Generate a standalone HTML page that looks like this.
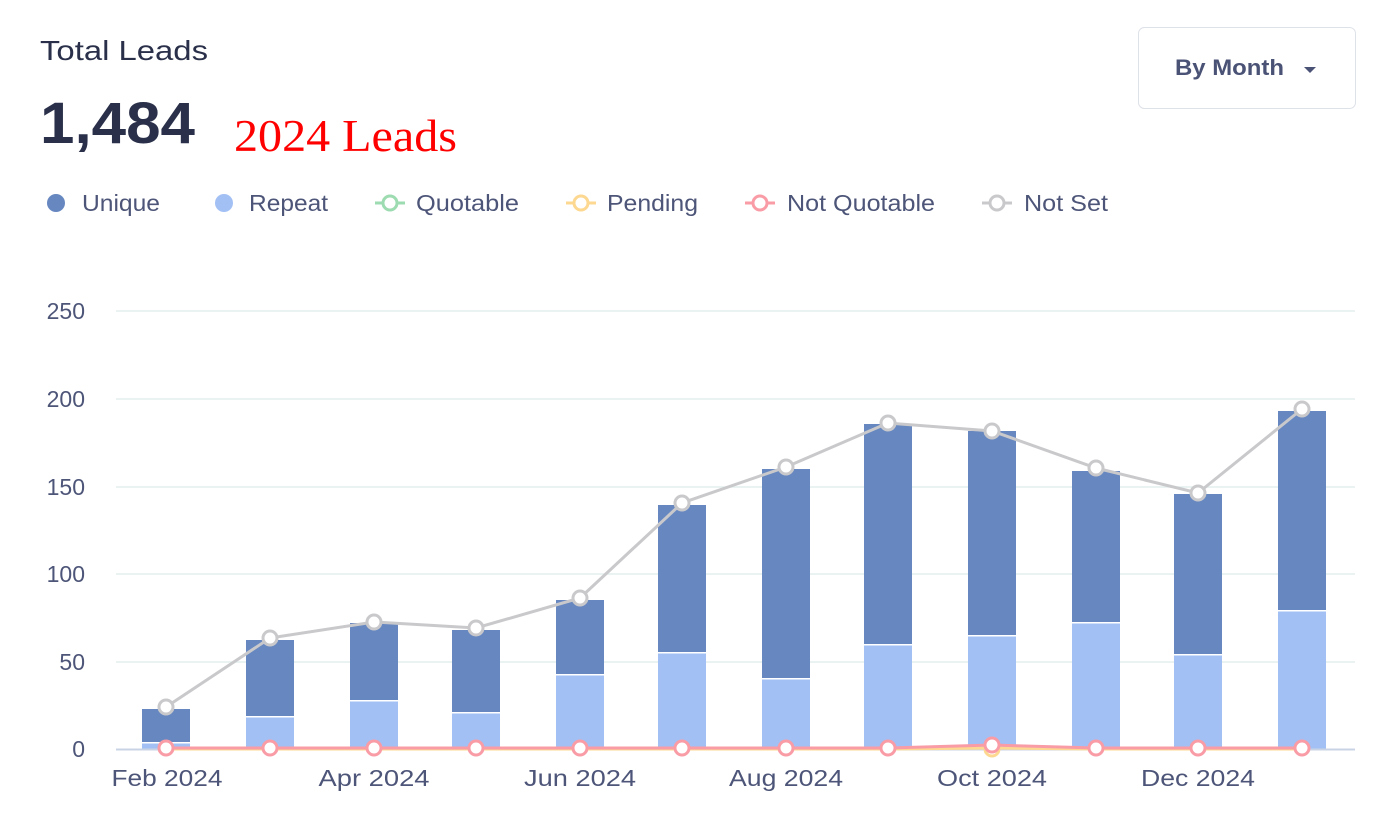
<!DOCTYPE html><html><head><meta charset="utf-8"><style>
body{margin:0;width:1380px;height:820px;background:#fff;overflow:hidden;font-family:"Liberation Sans",sans-serif}
</style></head><body>
<svg width="1380" height="820" xmlns="http://www.w3.org/2000/svg" font-family="Liberation Sans, sans-serif">
<text x="40" y="60" font-size="28" fill="#2a3049" textLength="168" lengthAdjust="spacingAndGlyphs">Total Leads</text>
<text x="40" y="143" font-size="58" font-weight="bold" fill="#2a3049" textLength="155" lengthAdjust="spacingAndGlyphs">1,484</text>
<text x="234" y="151" font-size="45" fill="#ff0000" font-family="Liberation Serif, serif" textLength="223" lengthAdjust="spacingAndGlyphs">2024 Leads</text>
<rect x="1138.5" y="27.5" width="217" height="81" rx="6" fill="#fff" stroke="#dde1e8"/>
<text x="1175" y="75" font-size="22" font-weight="bold" fill="#4a5275" textLength="109" lengthAdjust="spacingAndGlyphs">By Month</text>
<path d="M1304 67 h12 l-6 6z" fill="#4a5275"/>
<g font-size="23" fill="#4d5578">
<circle cx="56" cy="203" r="9" fill="#6687c0"/><text x="82" y="211" textLength="78" lengthAdjust="spacingAndGlyphs">Unique</text>
<circle cx="224" cy="203" r="9" fill="#a3c0f5"/><text x="249" y="211" textLength="79" lengthAdjust="spacingAndGlyphs">Repeat</text>
<line x1="375" y1="203" x2="405" y2="203" stroke="#9ddbb0" stroke-width="3"/><circle cx="390" cy="203" r="7" fill="#fff" stroke="#9ddbb0" stroke-width="3"/><text x="416" y="211" textLength="103" lengthAdjust="spacingAndGlyphs">Quotable</text>
<line x1="566" y1="203" x2="596" y2="203" stroke="#fdd891" stroke-width="3"/><circle cx="581" cy="203" r="7" fill="#fff" stroke="#fdd891" stroke-width="3"/><text x="607" y="211" textLength="91" lengthAdjust="spacingAndGlyphs">Pending</text>
<line x1="745" y1="203" x2="775" y2="203" stroke="#f99ca6" stroke-width="3"/><circle cx="760" cy="203" r="7" fill="#fff" stroke="#f99ca6" stroke-width="3"/><text x="787" y="211" textLength="148" lengthAdjust="spacingAndGlyphs">Not Quotable</text>
<line x1="982" y1="203" x2="1012" y2="203" stroke="#c9c9cc" stroke-width="3"/><circle cx="997" cy="203" r="7" fill="#fff" stroke="#c9c9cc" stroke-width="3"/><text x="1024" y="211" textLength="84" lengthAdjust="spacingAndGlyphs">Not Set</text>
</g>
<g stroke="#e3eeee" stroke-width="1.5">
<line x1="116" y1="311" x2="1355" y2="311"/><line x1="116" y1="399" x2="1355" y2="399"/><line x1="116" y1="487" x2="1355" y2="487"/><line x1="116" y1="574" x2="1355" y2="574"/><line x1="116" y1="662" x2="1355" y2="662"/>
</g>
<line x1="116" y1="749.5" x2="1355" y2="749.5" stroke="#c8d3e6" stroke-width="2"/>
<g font-size="23" fill="#4d5578" text-anchor="end">
<text x="85" y="319">250</text><text x="85" y="407">200</text><text x="85" y="495">150</text><text x="85" y="582">100</text><text x="85" y="670">50</text><text x="85" y="757">0</text>
</g>
<g font-size="23" fill="#4d5578" text-anchor="middle">
<text x="167" y="786" textLength="111" lengthAdjust="spacingAndGlyphs">Feb 2024</text><text x="374" y="786" textLength="111" lengthAdjust="spacingAndGlyphs">Apr 2024</text><text x="580" y="786" textLength="112" lengthAdjust="spacingAndGlyphs">Jun 2024</text><text x="786" y="786" textLength="114" lengthAdjust="spacingAndGlyphs">Aug 2024</text><text x="992" y="786" textLength="110" lengthAdjust="spacingAndGlyphs">Oct 2024</text><text x="1198" y="786" textLength="114" lengthAdjust="spacingAndGlyphs">Dec 2024</text>
</g>
<g fill="#6687c0">
<rect x="142" y="709" width="48" height="33"/><rect x="246" y="640" width="48" height="76"/><rect x="350" y="623" width="48" height="77"/><rect x="452" y="630" width="48" height="82"/><rect x="556" y="600" width="48" height="74"/><rect x="658" y="505" width="48" height="147"/><rect x="762" y="469" width="48" height="209"/><rect x="864" y="424" width="48" height="220"/><rect x="968" y="431" width="48" height="204"/><rect x="1072" y="471" width="48" height="151"/><rect x="1174" y="494" width="48" height="160"/><rect x="1278" y="411" width="48" height="199"/>
</g>
<g fill="#a3c0f5">
<rect x="142" y="743.5" width="48" height="5"/><rect x="246" y="717.5" width="48" height="31"/><rect x="350" y="701.5" width="48" height="47"/><rect x="452" y="713.5" width="48" height="35"/><rect x="556" y="675.5" width="48" height="73"/><rect x="658" y="653.5" width="48" height="95"/><rect x="762" y="679.5" width="48" height="69"/><rect x="864" y="645.5" width="48" height="103"/><rect x="968" y="636.5" width="48" height="112"/><rect x="1072" y="623.5" width="48" height="125"/><rect x="1174" y="655.5" width="48" height="93"/><rect x="1278" y="611.5" width="48" height="137"/>
</g>
<polyline points="166,749 270,749 374,749 476,749 580,749 682,749 786,749 888,749 992,748 1096,749 1198,749 1302,749" fill="none" stroke="#fdd891" stroke-width="3"/>
<circle cx="992" cy="749" r="7" fill="#fff" stroke="#fdd891" stroke-width="3"/>
<polyline points="166,748 270,748 374,748 476,748 580,748 682,748 786,748 888,748 992,745 1096,748 1198,748 1302,748" fill="none" stroke="#f99ca6" stroke-width="3"/>
<g fill="#fff" stroke="#f99ca6" stroke-width="3">
<circle cx="166" cy="748" r="7"/><circle cx="270" cy="748" r="7"/><circle cx="374" cy="748" r="7"/><circle cx="476" cy="748" r="7"/><circle cx="580" cy="748" r="7"/><circle cx="682" cy="748" r="7"/><circle cx="786" cy="748" r="7"/><circle cx="888" cy="748" r="7"/><circle cx="992" cy="745" r="7"/><circle cx="1096" cy="748" r="7"/><circle cx="1198" cy="748" r="7"/><circle cx="1302" cy="748" r="7"/>
</g>
<polyline points="166,707 270,638 374,622 476,628 580,598 682,503 786,467 888,423 992,431 1096,468 1198,493 1302,409" fill="none" stroke="#c9c9cc" stroke-width="3"/>
<g fill="#fff" stroke="#c9c9cc" stroke-width="3">
<circle cx="166" cy="707" r="7"/><circle cx="270" cy="638" r="7"/><circle cx="374" cy="622" r="7"/><circle cx="476" cy="628" r="7"/><circle cx="580" cy="598" r="7"/><circle cx="682" cy="503" r="7"/><circle cx="786" cy="467" r="7"/><circle cx="888" cy="423" r="7"/><circle cx="992" cy="431" r="7"/><circle cx="1096" cy="468" r="7"/><circle cx="1198" cy="493" r="7"/><circle cx="1302" cy="409" r="7"/>
</g>
</svg>
</body></html>
